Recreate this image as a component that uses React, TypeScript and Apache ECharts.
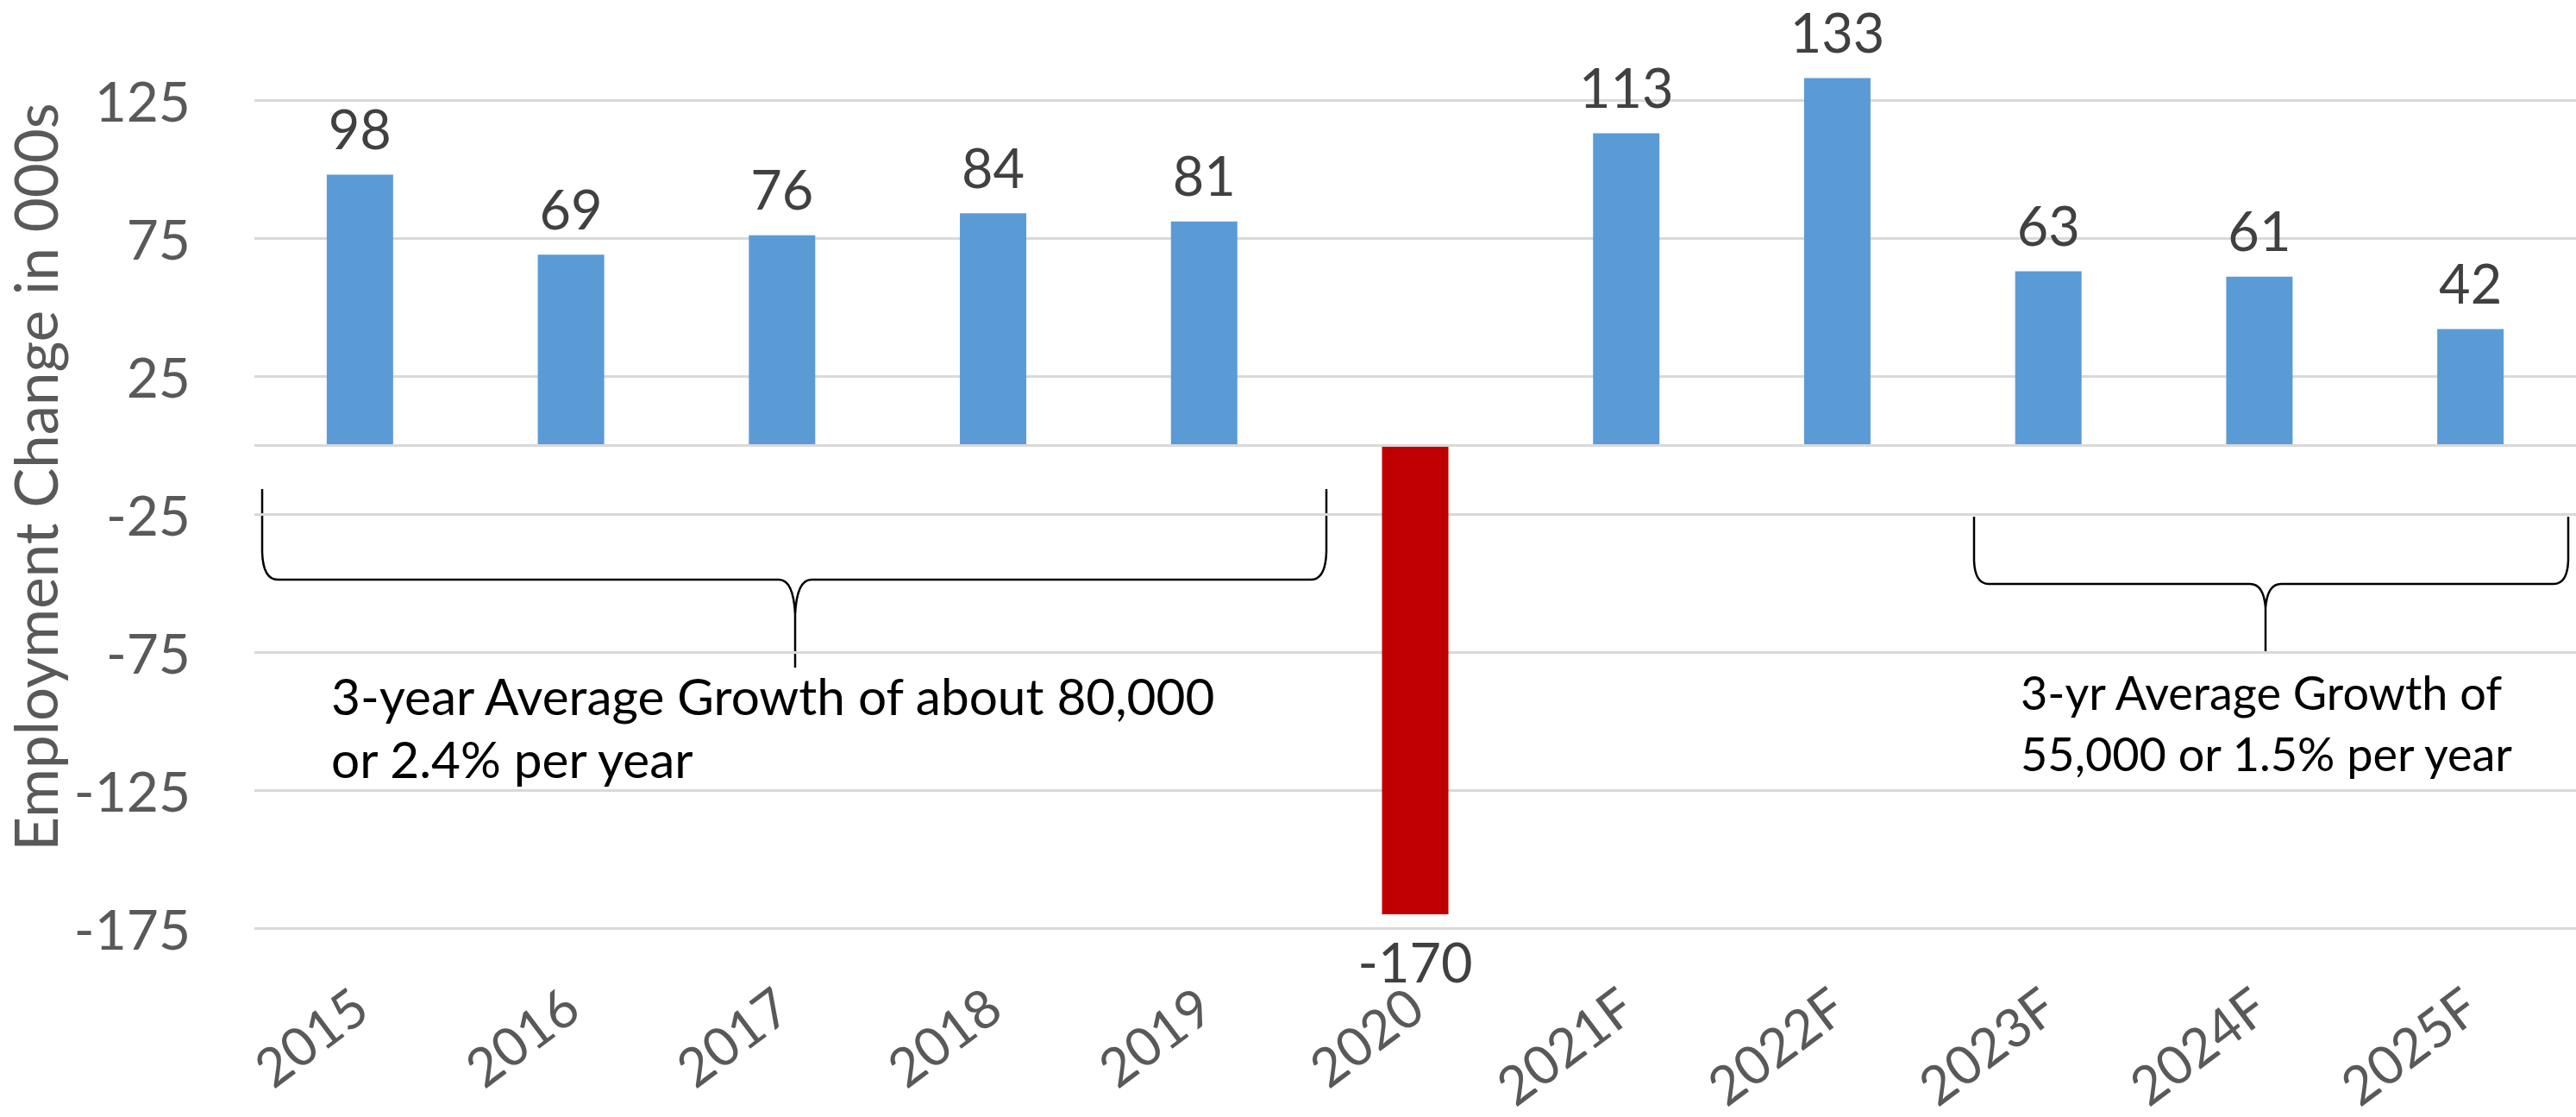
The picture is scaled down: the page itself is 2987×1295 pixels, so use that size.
import React, { useEffect, useRef } from "react";
import * as echarts from "echarts";

const categories = ["2015", "2016", "2017", "2018", "2019", "2020", "2021F", "2022F", "2023F", "2024F", "2025F"];
const values = [98, 69, 76, 84, 81, -170, 113, 133, 63, 61, 42];
const yTickLabels = [-175, -125, -75, -25, 25, 75, 125];
const axisTitle = "Employment Change in 000s";
const noteLeft = ["3-year Average Growth of about 80,000", "or 2.4% per year"];
const noteRight = ["3-yr Average Growth of", "55,000 or 1.5% per year"];

const BLUE = "#5B9BD5";
const RED = "#C00000";
const FONT = "Lato";

const braceLeftD =
  "M304,567 L304,640 Q305,672 322,672 L903,672 Q920,672 922,712 L922,774 M922,712 Q924,672 941,672 L1520,672 Q1537,672 1538,640 L1538,567";
const braceRightD =
  "M2289,599 L2289,650 Q2290,677 2306,677 L2609,677 Q2625,677 2627,705 L2627,756 M2627,705 Q2629,677 2645,677 L2961,677 Q2977,677 2978,650 L2978,599";

echarts.graphic.registerShape("braceLeft", echarts.graphic.extendPath(braceLeftD, {}));
echarts.graphic.registerShape("braceRight", echarts.graphic.extendPath(braceRightD, {}));

export default function App() {
  const ref = useRef<HTMLDivElement>(null);

  useEffect(() => {
    if (!ref.current) return;
    const chart = echarts.init(ref.current, undefined, { renderer: "svg" });

    const seriesData = values.map((v) => ({
      value: v,
      itemStyle: { color: v < 0 ? RED : BLUE },
      label: v < 0 ? { position: "bottom" } : undefined,
    }));

    const braceStyle = { fill: "none", stroke: "#000", lineWidth: 2.5 };
    const noteStyle = (text: string, size: number) => ({
      text,
      fontSize: size,
      fontFamily: FONT,
      fill: "#000",
      align: "left",
      verticalAlign: "middle",
    });

    chart.setOption({
      animation: false,
      backgroundColor: "#fff",
      grid: {
        left: 295,
        right: 0,
        top: 36,
        bottom: 219,
        containLabel: false,
        outerBoundsMode: "none",
      },
      xAxis: {
        type: "category",
        data: categories,
        axisLine: { show: false, onZero: false },
        axisTick: { show: false },
        axisLabel: {
          interval: 0,
          rotate: 37,
          margin: 82,
          fontSize: 62,
          fontFamily: FONT,
          color: "#595959",
        },
      },
      yAxis: {
        type: "value",
        min: -175,
        max: 150,
        interval: 25,
        axisLine: { show: false },
        axisTick: { show: false },
        axisLabel: {
          margin: 74,
          fontSize: 64,
          fontFamily: FONT,
          color: "#595959",
          formatter: (v: number) => (yTickLabels.includes(Math.round(v)) ? String(Math.round(v)) : ""),
        },
        splitLine: {
          lineStyle: { color: ["#d9d9d9", "rgba(0,0,0,0)"], width: 3 },
        },
      },
      series: [
        {
          type: "bar",
          data: seriesData,
          barWidth: 77,
          label: {
            show: true,
            position: "top",
            distance: 27,
            fontSize: 63,
            lineHeight: 54,
            fontFamily: FONT,
            color: "#404040",
          },
          markLine: {
            silent: true,
            symbol: ["none", "none"],
            label: { show: false },
            lineStyle: { color: "#d9d9d9", width: 3, type: "solid" },
            data: [{ yAxis: 0 }],
          },
        },
      ],
      graphic: [
        {
          type: "text",
          x: 40,
          y: 553,
          rotation: Math.PI / 2,
          silent: true,
          style: {
            text: axisTitle,
            fontSize: 69,
            lineHeight: 69,
            fontFamily: FONT,
            fill: "#595959",
            align: "center",
            verticalAlign: "middle",
          },
        },
        { type: "braceLeft", x: 0, y: 0, silent: true, style: braceStyle },
        { type: "braceRight", x: 0, y: 0, silent: true, style: braceStyle },
        { type: "text", x: 384, y: 806, silent: true, style: noteStyle(noteLeft[0], 58.5) },
        { type: "text", x: 384, y: 879, silent: true, style: noteStyle(noteLeft[1], 58.5) },
        { type: "text", x: 2343, y: 802, silent: true, style: noteStyle(noteRight[0], 54) },
        { type: "text", x: 2343, y: 873, silent: true, style: noteStyle(noteRight[1], 54) },
      ],
    });

    return () => chart.dispose();
  }, []);

  return (
    <div
      ref={ref}
      style={{ position: "fixed", left: 0, top: 0, width: 2987, height: 1295, background: "#fff" }}
    />
  );
}
